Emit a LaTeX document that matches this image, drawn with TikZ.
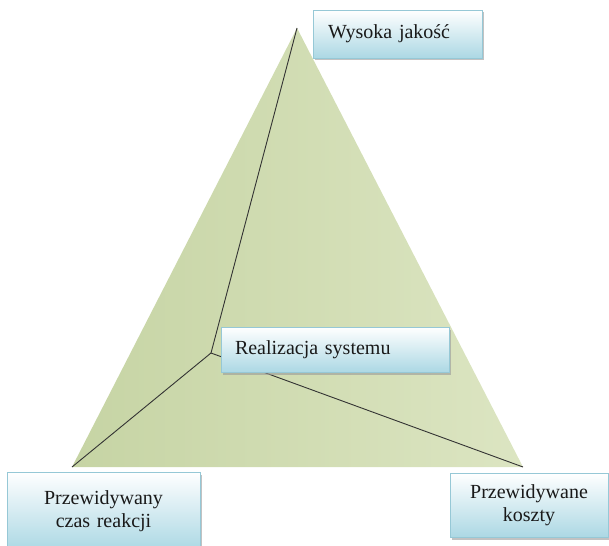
\documentclass[tikz,border=0pt]{standalone}
\usepackage{fontspec}
\setmainfont{Liberation Serif}
\usetikzlibrary{shadows}

\definecolor{boxblue}{RGB}{172,216,228}
\definecolor{boxedge}{RGB}{150,200,214}
\definecolor{greendark}{RGB}{198,212,164}
\definecolor{greenlight}{RGB}{236,240,222}
\definecolor{greenright}{RGB}{220,229,194}

\begin{document}
\begin{tikzpicture}[x=1pt,y=-1pt]
\tikzstyle{box} = [rectangle, draw=boxedge, line width=0.8pt, top color=white, bottom color=boxblue, drop shadow={shadow xshift=2pt, shadow yshift=-2.5pt, fill=black!40, opacity=0.6}, font=\fontsize{20}{23}\selectfont, text=black!90]
\tikzstyle{link} = [draw=black!80, line width=0.9pt]
\useasboundingbox (0,0) rectangle (609,545);

% triangle
\coordinate (top) at (297,28);
\coordinate (left) at (72,467);
\coordinate (right) at (523,467);
\coordinate (mid) at (211,353);
\shade[left color=greendark, middle color=greenlight, right color=greenright] (top) -- (left) -- (right) -- cycle;

\draw[link] (mid) -- (top);
\draw[link] (mid) -- (left);
\draw[link] (mid) -- (right);

% labels
\node[box, text width=139pt, inner xsep=15pt, minimum height=48pt, align=left] (quality) at (397.5,34) {Wysoka jakość};
\node[box, text width=200pt, inner xsep=14pt, minimum height=45pt, align=left] (system) at (335,349.5) {Realizacja systemu};
\node[box, text width=173pt, inner xsep=10pt, minimum height=78pt, align=center] (time) at (103.5,511) {Przewidywany\\czas reakcji};
\node[box, text width=138pt, inner xsep=10pt, minimum height=64pt, align=center] (cost) at (529,505) {Przewidywane\\koszty};
\end{tikzpicture}
\end{document}
